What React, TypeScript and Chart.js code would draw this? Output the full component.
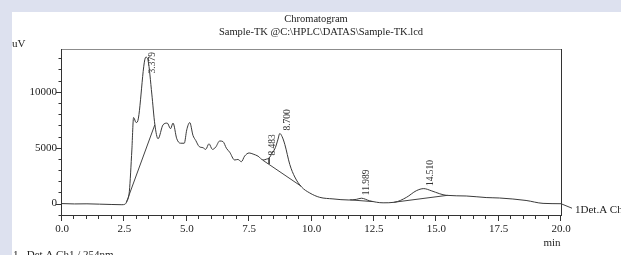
import React, { useEffect, useRef } from "react";
import { Chart, registerables } from "chart.js";

Chart.register(...registerables);

// Retention time (min) and detector signal (uV) of the trace
const times = [
  0, 0.5, 1.0, 1.5, 2.0, 2.4, 2.52, 2.6, 2.7, 2.8, 2.87, 2.97, 3.02, 3.36, 3.45, 3.6, 3.72,
  3.85, 4.05, 4.22, 4.35, 4.45, 4.6, 4.75, 4.9, 5.0, 5.12, 5.25, 5.36, 5.5, 5.65, 5.76,
  5.89, 6.03, 6.16, 6.32, 6.45, 6.59, 6.72, 6.92, 7.05, 7.19, 7.32, 7.5, 7.66, 7.86, 8.06,
  8.2, 8.3, 8.42, 8.55, 8.65, 8.73, 8.82, 8.93, 9.13, 9.33, 9.6, 9.93, 10.33, 10.86, 11.5,
  11.8, 12.0, 12.33, 12.87, 13.33, 13.8, 14.2, 14.5, 14.8, 15.14, 15.4, 16.2, 17.0, 17.54,
  18.6, 19.28, 20.0,
];
const signal = [
  0, -30, -20, -50, -80, -100, -60, 200, 1100, 4800, 7700, 7250, 7300, 13100, 12800, 9800, 7100,
  5800, 7050, 7200, 6700, 7200, 5800, 5400, 5400, 6600, 7250, 6100, 5650, 5100, 5000, 4850,
  5350, 4850, 5050, 5600, 5550, 4950, 4600, 3900, 3950, 3750, 4250, 4530, 4430, 4240, 3900,
  3980, 4080, 4500, 5000, 5700, 6270, 6000, 5300, 3500, 2380, 1490, 950, 560, 420, 320,
  380, 480, 250, 70, 120, 550, 1150, 1340, 1150, 880, 740, 680, 540, 500,
  280, 20, -10,
];

// Integration baselines (start/end time, start/end signal)
const baselineT = [[2.58, 3.72], [8.05, 9.58], [8.3, 8.3], [11.55, 12.45], [13.3, 15.45]];
const baselineV = [[100, 7050], [3880, 1560], [4080, 3540], [330, 180], [120, 740]];

// Peak tops
const peakT = [3.379, 8.483, 8.7, 11.989, 14.51];
const peakV = [13100, 4650, 6270, 480, 1340];
const peakLabels = ["3.379", "8.483", "8.700", "11.989", "14.510"];

// Axis ticks
const xTickValues = [0, 2.5, 5, 7.5, 10, 12.5, 15, 17.5, 20];
const xTickLabels = ["0.0", "2.5", "5.0", "7.5", "10.0", "12.5", "15.0", "17.5", "20.0"];
const yTickValues = [0, 5000, 10000];
const yTickLabels = ["0", "5000", "10000"];

const SERIF = "'Liberation Serif', 'DejaVu Serif', serif";

// label pixel nudges [dx, dy]
const labelNudge = [[6, -3], [-1, 4], [8.5, -3], [5.6, -3], [6.5, -2.5]];

const decor = {
  id: "decor",
  beforeDraw(chart: any) {
    const { ctx, width, height } = chart;
    ctx.save();
    ctx.fillStyle = "#dde1ef";
    ctx.fillRect(0, 0, width, height);
    ctx.fillStyle = "#ffffff";
    ctx.fillRect(12, 12, width - 12, height - 12);
    ctx.restore();
  },
  afterDraw(chart: any) {
    const { ctx, chartArea, scales } = chart;
    const { left, right, top, bottom } = chartArea;
    const xs = scales.x;
    const ys = scales.y;
    ctx.save();
    ctx.lineWidth = 1;
    // box
    ctx.strokeStyle = "#8c8c8c";
    ctx.beginPath();
    ctx.moveTo(left, Math.round(top) + 0.5);
    ctx.lineTo(right, Math.round(top) + 0.5);
    ctx.stroke();
    ctx.strokeStyle = "#333";
    ctx.beginPath();
    ctx.moveTo(Math.round(right) + 0.5, top);
    ctx.lineTo(Math.round(right) + 0.5, bottom);
    ctx.moveTo(Math.round(left) - 0.5, top);
    ctx.lineTo(Math.round(left) - 0.5, bottom);
    ctx.moveTo(left - 1, Math.round(bottom) - 0.5);
    ctx.lineTo(right + 1, Math.round(bottom) - 0.5);
    ctx.stroke();
    // x ticks
    ctx.beginPath();
    for (let i = 0; i <= 40; i++) {
      const t = i * 0.5;
      const px = Math.round(xs.getPixelForValue(t)) - 0.5;
      const len = i % 5 === 0 ? 5 : 3;
      ctx.moveTo(px, Math.round(bottom));
      ctx.lineTo(px, Math.round(bottom) + len);
    }
    // y ticks
    for (let v = -1000; v <= 13000; v += 1000) {
      const py = Math.round(ys.getPixelForValue(v)) + 0.5;
      const len = v % 5000 === 0 ? 5 : 2.5;
      ctx.moveTo(Math.round(left) - 1 - len, py);
      ctx.lineTo(Math.round(left) - 1, py);
    }
    ctx.stroke();

    // connector to channel label
    const endY = ys.getPixelForValue(signal[signal.length - 1]);
    ctx.strokeStyle = "#444";
    ctx.beginPath();
    ctx.moveTo(right, endY);
    ctx.lineTo(right + 11, endY + 4.5);
    ctx.stroke();

    // texts
    ctx.fillStyle = "#222";
    ctx.textBaseline = "alphabetic";
    ctx.font = `10.5px ${SERIF}`;
    ctx.textAlign = "center";
    ctx.fillText("Chromatogram", 316, 22);
    ctx.fillText("Sample-TK @C:\\HPLC\\DATAS\\Sample-TK.lcd", 321, 35);
    ctx.font = `11px ${SERIF}`;
    ctx.textAlign = "left";
    ctx.fillText("uV", 12, 47);
    ctx.textAlign = "center";
    ctx.fillText("min", 552, 246);
    ctx.textAlign = "left";
    ctx.fillText("1Det.A Ch1", right + 14, endY + 9);
    ctx.fillText("1   Det.A Ch1 / 254nm", 13, 258);

    // peak labels
    ctx.font = `9.5px ${SERIF}`;
    ctx.fillStyle = "#333";
    ctx.textBaseline = "middle";
    ctx.textAlign = "left";
    peakT.forEach((t, i) => {
      const label = peakLabels[i];
      const w = ctx.measureText(label).width;
      const px = xs.getPixelForValue(t) + labelNudge[i][0];
      let py = ys.getPixelForValue(peakV[i]) + labelNudge[i][1];
      if (py - w < top + 3) py = top + 3 + w;
      ctx.save();
      ctx.translate(px, py);
      ctx.rotate(-Math.PI / 2);
      ctx.fillText(label, 0, 0);
      ctx.restore();
    });
    ctx.restore();
  },
};

export default function App() {
  const ref = useRef<HTMLCanvasElement>(null);
  useEffect(() => {
    if (!ref.current) return;
    const traceData = times.map((t, i) => ({ x: t, y: signal[i] }));
    const baseSets = baselineT.map((seg, i) => ({
      data: seg.map((t, j) => ({ x: t, y: baselineV[i][j] })),
      borderColor: "#444",
      borderWidth: 1,
      pointRadius: 0,
      tension: 0,
      fill: false,
    }));
    const chart = new Chart(ref.current, {
      type: "line",
      data: {
        datasets: [
          {
            data: traceData,
            borderColor: "#3a3a3a",
            borderWidth: 1,
            pointRadius: 0,
            cubicInterpolationMode: "monotone",
            fill: false,
          } as any,
          ...baseSets,
        ],
      },
      options: {
        animation: false,
        responsive: false,
        devicePixelRatio: 1,
        events: [],
        layout: { padding: { left: 0, top: 49, right: 60, bottom: 0 } },
        plugins: { legend: { display: false }, tooltip: { enabled: false }, title: { display: false } },
        scales: {
          x: {
            type: "linear",
            min: 0,
            max: 20,
            grid: { display: false, drawTicks: false },
            border: { display: false },
            afterFit: (s: any) => { s.height = 39; },
            afterBuildTicks: (s: any) => { s.ticks = xTickValues.map((v) => ({ value: v })); },
            ticks: {
              autoSkip: false,
              maxRotation: 0,
              padding: 7,
              color: "#222",
              font: { family: SERIF, size: 11 },
              callback: (_v: any, i: number) => xTickLabels[i],
            },
          },
          y: {
            type: "linear",
            min: -1110,
            max: 13830,
            grid: { display: false, drawTicks: false },
            border: { display: false },
            afterFit: (s: any) => { s.width = 62; },
            afterBuildTicks: (s: any) => { s.ticks = yTickValues.map((v) => ({ value: v })); },
            ticks: {
              padding: 5,
              color: "#222",
              font: { family: SERIF, size: 11 },
              callback: (_v: any, i: number) => yTickLabels[i],
            },
          },
        },
      },
      plugins: [decor],
    });
    return () => chart.destroy();
  }, []);
  return (
    <canvas
      ref={ref}
      width={621}
      height={255}
      style={{ position: "fixed", left: 0, top: 0, width: 621, height: 255, display: "block" }}
    />
  );
}
